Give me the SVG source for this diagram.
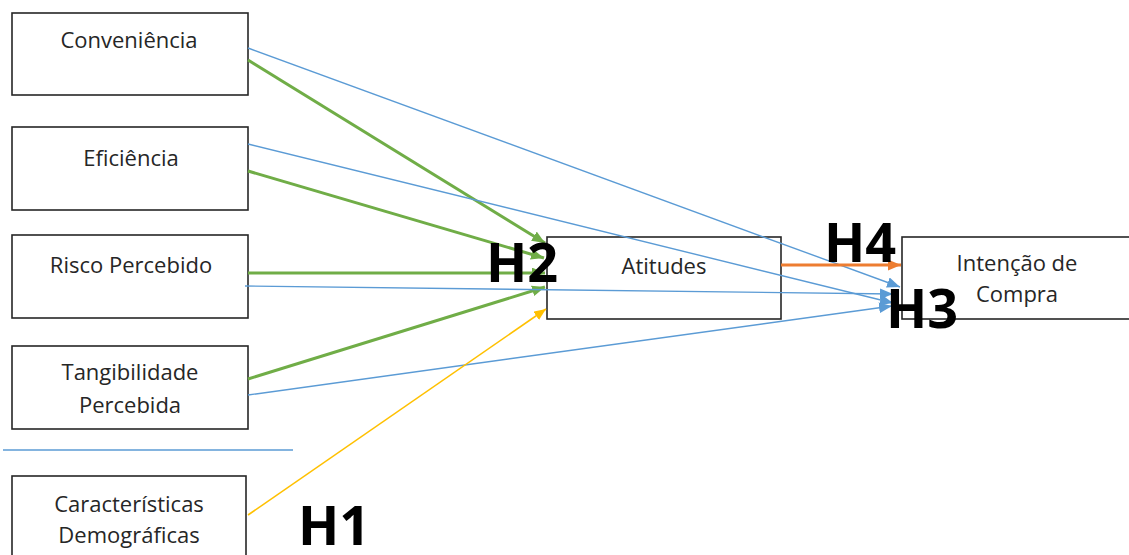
<svg xmlns="http://www.w3.org/2000/svg" width="1129" height="555" viewBox="0 0 1129 555">
  <style>
    .box { fill: #ffffff; stroke: #262626; stroke-width: 1.6; }
    .lbl { font-family: "Open Sans", "Noto Sans", sans-serif; font-size: 22px; fill: #262626; text-anchor: middle; }
    .hyp { font-family: "Open Sans", "Noto Sans", sans-serif; font-size: 54px; font-weight: bold; fill: #000000; }
    .g { stroke: #70AD47; stroke-width: 3; fill: none; marker-end: url(#arrG); }
    .b { stroke: #5B9BD5; stroke-width: 1.4; fill: none; marker-end: url(#arrB); }
    .o { stroke: #ED7D31; stroke-width: 3; fill: none; marker-end: url(#arrO); }
    .y { stroke: #FFC000; stroke-width: 1.6; fill: none; marker-end: url(#arrY); }
  </style>
  <defs>
    <marker id="arrG" viewBox="0 0 12 10" refX="12" refY="5" markerWidth="13" markerHeight="11" orient="auto" markerUnits="userSpaceOnUse">
      <path d="M0,0 L12,5 L0,10 z" fill="#70AD47"/>
    </marker>
    <marker id="arrB" viewBox="0 0 12 10" refX="12" refY="5" markerWidth="13" markerHeight="11" orient="auto" markerUnits="userSpaceOnUse">
      <path d="M0,0 L12,5 L0,10 z" fill="#5B9BD5"/>
    </marker>
    <marker id="arrO" viewBox="0 0 12 10" refX="12" refY="5" markerWidth="13" markerHeight="11" orient="auto" markerUnits="userSpaceOnUse">
      <path d="M0,0 L12,5 L0,10 z" fill="#ED7D31"/>
    </marker>
    <marker id="arrY" viewBox="0 0 12 10" refX="12" refY="5" markerWidth="12" markerHeight="10" orient="auto" markerUnits="userSpaceOnUse">
      <path d="M0,0 L12,5 L0,10 z" fill="#FFC000"/>
    </marker>
  </defs>

  <rect x="0" y="0" width="1129" height="555" fill="#ffffff"/>

  <!-- nodes -->
  <g id="conveniencia">
    <rect class="box" x="12" y="13" width="236" height="82"/>
    <text class="lbl" x="129" y="48">Conveniência</text>
  </g>
  <g id="eficiencia">
    <rect class="box" x="12" y="127" width="236" height="83"/>
    <text class="lbl" x="131" y="166">Eficiência</text>
  </g>
  <g id="risco-percebido">
    <rect class="box" x="12" y="235" width="236" height="83"/>
    <text class="lbl" x="131" y="273">Risco Percebido</text>
  </g>
  <g id="tangibilidade-percebida">
    <rect class="box" x="12" y="346" width="236" height="83"/>
    <text class="lbl" x="130" y="380">Tangibilidade</text>
    <text class="lbl" x="130" y="413">Percebida</text>
  </g>
  <g id="caracteristicas-demograficas">
    <rect class="box" x="12" y="476" width="234" height="90"/>
    <text class="lbl" x="129" y="512">Características</text>
    <text class="lbl" x="129" y="543">Demográficas</text>
  </g>
  <g id="atitudes">
    <rect class="box" x="547" y="237" width="234" height="82"/>
    <text class="lbl" x="664" y="274">Atitudes</text>
  </g>
  <g id="intencao-de-compra">
    <rect class="box" x="902" y="237" width="232" height="82"/>
    <text class="lbl" x="1017" y="271">Intenção de</text>
    <text class="lbl" x="1017" y="302">Compra</text>
  </g>

  <!-- separator line -->
  <line x1="3" y1="450" x2="293" y2="450" stroke="#5B9BD5" stroke-width="1.4"/>

  <!-- connectors -->
  <g id="connectors">
    <line class="g" x1="248" y1="60" x2="545" y2="243"/>
    <line class="g" x1="248" y1="171" x2="544" y2="258"/>
    <line class="g" x1="248" y1="273" x2="545" y2="273"/>
    <line class="g" x1="248" y1="379" x2="545" y2="287"/>

    <line class="b" x1="248" y1="48" x2="900" y2="287"/>
    <line class="b" x1="248" y1="144" x2="893" y2="303"/>
    <line class="b" x1="245" y1="286" x2="893" y2="294"/>
    <line class="b" x1="248" y1="395" x2="892" y2="306"/>

    <line class="o" x1="781" y1="265" x2="901" y2="265"/>

    <line class="y" x1="248" y1="515" x2="546" y2="309"/>
  </g>

  <!-- hypothesis labels -->
  <g id="hypotheses">
    <text class="hyp" x="486" y="282">H2</text>
    <text class="hyp" x="824" y="262">H4</text>
    <text class="hyp" x="886" y="328">H3</text>
    <text class="hyp" x="298" y="545">H1</text>
  </g>
</svg>
